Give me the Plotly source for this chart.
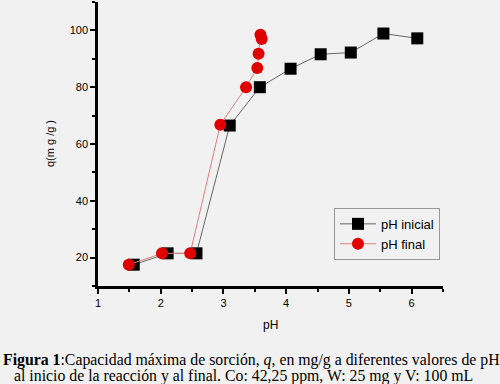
import plotly.graph_objects as go

ph_inicial = [1.57, 2.11, 2.57, 3.10, 3.58, 4.07, 4.55, 5.03, 5.55, 6.09]
q_inicial = [17.5, 21.5, 21.5, 66.5, 80.0, 86.5, 91.6, 92.2, 98.9, 97.2]

ph_final = [1.49, 2.02, 2.47, 2.95, 3.36, 3.54, 3.56, 3.59, 3.61]
q_final = [17.5, 21.5, 21.5, 66.8, 80.0, 86.8, 91.8, 98.5, 97.0]

BG = "#f1f1f1"

fig = go.Figure()
fig.add_trace(go.Scatter(
    x=ph_inicial, y=q_inicial, mode="lines+markers", name="pH inicial",
    line=dict(color="#666666", width=1),
    marker=dict(symbol="square", size=12, color="black"),
))
fig.add_trace(go.Scatter(
    x=ph_final, y=q_final, mode="lines+markers", name="pH final",
    line=dict(color="#e08080", width=1),
    marker=dict(symbol="circle", size=12, color="#e00000"),
))

axis_font = dict(family="Liberation Sans, Arial, sans-serif", size=11, color="black")

fig.update_layout(
    width=500, height=384,
    paper_bgcolor=BG, plot_bgcolor=BG,
    margin=dict(l=98, r=57, t=2, b=98),
    showlegend=True,
    legend=dict(
        x=0.684, y=0.275, xanchor="left", yanchor="top",
        bgcolor=BG, bordercolor="#999999", borderwidth=1,
        font=dict(family="Liberation Sans, Arial, sans-serif", size=13, color="black"),
        tracegroupgap=0, itemwidth=36,
    ),
    xaxis=dict(
        range=[1, 6.5], dtick=1, tick0=1, showgrid=False, zeroline=False,
        showline=True, linecolor="black", linewidth=2.5,
        ticks="outside", ticklen=5, tickwidth=2, tickcolor="black",
        tickfont=axis_font,
        minor=dict(dtick=0.5, tick0=1, ticks="outside", ticklen=3, tickwidth=2, tickcolor="black"),
    ),
    yaxis=dict(
        range=[10, 110], dtick=20, tick0=0, showgrid=False, zeroline=False,
        showline=True, linecolor="black", linewidth=2.5,
        ticks="outside", ticklen=5, tickwidth=2, tickcolor="black",
        tickfont=axis_font,
        minor=dict(dtick=10, tick0=0, ticks="outside", ticklen=3, tickwidth=2, tickcolor="black"),
    ),
    font=axis_font,
)

fig.add_annotation(
    text="pH", xref="paper", yref="paper", x=0.5, y=-0.138, xanchor="center", yanchor="middle",
    showarrow=False, font=dict(family="Liberation Sans, Arial, sans-serif", size=12, color="black"),
)
fig.add_annotation(
    text="q(m g /g )", xref="paper", yref="paper", x=-0.139, y=0.5, xanchor="center", yanchor="middle",
    textangle=-90, showarrow=False,
    font=dict(family="Liberation Sans, Arial, sans-serif", size=11, color="black"),
)
cap_font = dict(family="Liberation Serif, Times New Roman, serif", size=15.8, color="black")
fig.add_annotation(
    text="<b>Figura 1</b>:Capacidad máxima de sorción, <i>q</i>, en mg/g a diferentes valores de pH",
    xref="paper", yref="paper", x=(251 - 98) / 345, y=(286 - 360) / 284,
    xanchor="center", yanchor="middle", showarrow=False, font=cap_font,
)
fig.add_annotation(
    text="al inicio de la reacción y al final. Co: 42,25 ppm, W: 25 mg y V: 100 mL",
    xref="paper", yref="paper", x=(12 - 98) / 345, y=(286 - 376) / 284,
    xanchor="left", yanchor="middle", showarrow=False, font=cap_font,
)

fig.write_html(
    "out.html",
    config={"displayModeBar": False},
    post_script="document.body.style.margin='0';document.body.style.padding='0';",
)
